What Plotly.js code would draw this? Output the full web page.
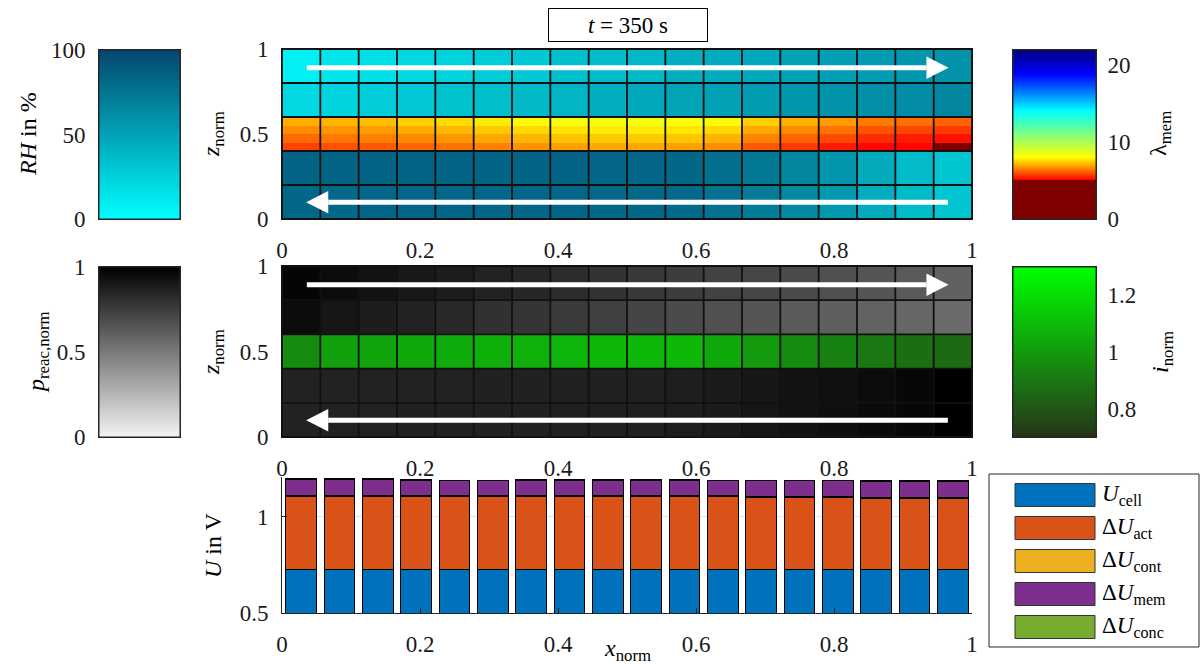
<!DOCTYPE html>
<html><head><meta charset="utf-8">
<script src="https://cdn.plot.ly/plotly-3.0.1.min.js"></script>
<style>html,body{margin:0;padding:0;background:#fff}#chart{width:1203px;height:664px}</style>
</head><body><div id="chart"></div>
<script>
// ---------- data ----------
const xNorm = [0.0278,0.0833,0.1389,0.1944,0.25,0.3056,0.3611,0.4167,0.4722,0.5278,0.5833,0.6389,0.6944,0.75,0.8056,0.8611,0.9167,0.9722];
const zEdgesAnode = [0, 0.2, 0.4];
const zEdgesMem = [0.4, 0.45, 0.5, 0.55, 0.6];
const zEdgesCathode = [0.6, 0.8, 1];
const xTickVals = [0, 0.2, 0.4, 0.6, 0.8, 1];

// relative humidity in % (top panel)
const rhAnodeLow  = [82,82,83,83,83,83,83,83,82,82,81,77,71,64,55,45,37,31];
const rhAnodeHigh = [84,84,84,84,84,84,84,84,83,83,82,78,73,65,56,46,37,31];
const rhCathLow   = [21,23,27,30,33,35,38,40,43,47,49,51,53,56,58,60,62,65];
const rhCathHigh  = [8,14,17,21,24,27,30,34,36,39,43,45,47,50,52,54,56,59];
// membrane water content, four levels through the membrane (bottom -> top)
const lambdaQ1 = [5.79,5.98,6.07,6.21,6.35,6.53,6.72,6.9,6.99,6.99,6.9,6.67,6.07,5.7,5.33,5.1,5.1,4.8];
const lambdaQ2 = [6.25,6.39,6.49,6.62,6.76,6.95,7.13,7.27,7.36,7.36,7.31,7.09,6.53,6.16,5.89,5.51,5.37,5.24];
const lambdaQ3 = [6.67,6.76,6.86,7.04,7.18,7.36,7.55,7.69,7.78,7.78,7.73,7.55,6.99,6.62,6.35,5.98,5.84,5.7];
const lambdaQ4 = [7.04,7.13,7.22,7.41,7.6,7.78,7.96,8.13,8.2,8.18,8.05,7.96,7.45,7.09,6.81,6.44,6.3,6.16];

// normalised reactant pressure (middle panel)
const pAnodeLow  = [0.86,0.86,0.86,0.865,0.865,0.865,0.865,0.87,0.87,0.87,0.875,0.89,0.91,0.92,0.94,0.955,0.97,1.0];
const pAnodeHigh = [0.86,0.86,0.86,0.86,0.86,0.865,0.865,0.865,0.87,0.87,0.875,0.89,0.905,0.92,0.935,0.95,0.97,1.0];
const pCathLow   = [0.95,0.91,0.88,0.86,0.83,0.80,0.78,0.76,0.735,0.715,0.69,0.67,0.65,0.63,0.61,0.595,0.58,0.56];
const pCathHigh  = [0.98,0.95,0.925,0.90,0.88,0.86,0.84,0.82,0.79,0.77,0.75,0.73,0.71,0.69,0.67,0.65,0.63,0.60];
// normalised current density
const iNorm = [0.96,1.02,1.03,1.04,1.055,1.065,1.07,1.08,1.09,1.09,1.09,1.045,1.0,0.96,0.93,0.90,0.875,0.86];

// voltage breakdown in V (bottom panel)
const uCell  = [0.728,0.728,0.728,0.728,0.728,0.728,0.728,0.728,0.728,0.728,0.728,0.728,0.728,0.728,0.728,0.728,0.728,0.728];
const dUact  = [0.376,0.376,0.376,0.375,0.375,0.375,0.376,0.377,0.377,0.377,0.377,0.376,0.373,0.372,0.371,0.369,0.368,0.367];
const dUcont = [0.008,0.008,0.008,0.006,0.005,0.006,0.007,0.007,0.007,0.007,0.007,0.006,0.005,0.005,0.005,0.005,0.005,0.005];
const dUmem  = [0.082,0.082,0.082,0.081,0.080,0.079,0.078,0.077,0.077,0.077,0.077,0.078,0.080,0.081,0.082,0.083,0.084,0.085];
const dUconc = [0.002,0.002,0.002,0.002,0.002,0.002,0.002,0.002,0.002,0.002,0.002,0.002,0.002,0.002,0.002,0.002,0.002,0.002];
const seriesNames  = ['<i>U</i><sub>cell</sub>','Δ<i>U</i><sub>act</sub>','Δ<i>U</i><sub>cont</sub>','Δ<i>U</i><sub>mem</sub>','Δ<i>U</i><sub>conc</sub>'];
const seriesColors = ['#0072BD','#D95319','#EDB120','#7E2F8E','#77AC30'];
const seriesValues = [uCell, dUact, dUcont, dUmem, dUconc];

// ---------- helpers ----------
const W = 1203, H = 664;
const fx = p => p / W;
const fy = p => 1 - p / H;
const FONT = 'Liberation Serif, DejaVu Serif, serif';
const INK = '#262626';
const TS = 23;

const xEdges = [0].concat(xNorm.slice(1).map((v, i) => (v + xNorm[i]) / 2), [1]);

const lamMax = 21.95;
const lamStops = [[0,'#800000'],[5.0,'#800000'],[5.05,'#ff0000'],[6.5,'#ff8000'],[8,'#ffff00'],[11,'#80ff80'],[14,'#00ffff'],[18.8,'#0000ff'],[lamMax,'#000080']];
const lamScale = lamStops.map(s => [s[0] / lamMax, s[1]]);

function cb(x0, y0, w, h) {
  return {x: fx(x0), xanchor: 'left', xref: 'paper', xpad: 0, y: fy(y0), yanchor: 'top', yref: 'paper', ypad: 0,
    len: h, lenmode: 'pixels', thickness: w, thicknessmode: 'pixels',
    showticklabels: false, ticks: '', outlinewidth: 1, outlinecolor: INK, borderwidth: 0};
}

function hm(z, yEdges, xa, ya, ca) {
  return {type: 'heatmap', x: xNorm, y: yEdges, z: z, xaxis: xa, yaxis: ya, coloraxis: ca, hoverinfo: 'skip'};
}

const traces = [
  hm([rhAnodeLow, rhAnodeHigh], zEdgesAnode, 'x', 'y', 'coloraxis'),
  hm([rhCathLow, rhCathHigh], zEdgesCathode, 'x', 'y', 'coloraxis'),
  hm([lambdaQ1, lambdaQ2, lambdaQ3, lambdaQ4], zEdgesMem, 'x', 'y', 'coloraxis2'),
  hm([pAnodeLow, pAnodeHigh], zEdgesAnode, 'x2', 'y2', 'coloraxis3'),
  hm([pCathLow, pCathHigh], zEdgesCathode, 'x2', 'y2', 'coloraxis3'),
  hm([iNorm], [0.4, 0.6], 'x2', 'y2', 'coloraxis4'),
];
seriesValues.forEach((vals, k) => {
  traces.push({type: 'bar', x: xNorm, y: vals, name: seriesNames[k], xaxis: 'x3', yaxis: 'y3',
    marker: {color: seriesColors[k], line: {color: '#000', width: 1}}, showlegend: false, hoverinfo: 'skip'});
});
['4','5','6','7'].forEach(n => traces.push({type: 'scatter', x: [], y: [], xaxis: 'x' + n, yaxis: 'y' + n, showlegend: false, hoverinfo: 'skip'}));

// grid lines between cells
const shapes = [];
function grid(xr, yr) {
  const yEdgesAll = zEdgesAnode.concat(zEdgesCathode).filter((v, i, a) => a.indexOf(v) === i);
  xEdges.forEach(xe => shapes.push({type: 'line', xref: xr, yref: yr, x0: xe, x1: xe, y0: 0, y1: 1, line: {color: '#111', width: 1.8}}));
  yEdgesAll.forEach(ye => shapes.push({type: 'line', xref: xr, yref: yr, x0: 0, x1: 1, y0: ye, y1: ye, line: {color: '#111', width: 1.8}}));
}
grid('x', 'y');
grid('x2', 'y2');

// flow arrows (white, filled heads)
function arrow(xr, yr, xTail, xTip, y) {
  const hl = 0.032 * Math.sign(xTip - xTail), hw = 0.066;
  const xb = xTip - hl;
  shapes.push({type: 'line', xref: xr, yref: yr, x0: xTail, x1: xb, y0: y, y1: y, line: {color: '#fff', width: 5}});
  shapes.push({type: 'path', xref: xr, yref: yr, path: `M${xb},${y - hw} L${xTip},${y} L${xb},${y + hw} Z`, fillcolor: '#fff', line: {color: '#fff', width: 0}});
}
arrow('x', 'y', 0.036, 0.966, 0.89);
arrow('x', 'y', 0.965, 0.035, 0.098);
arrow('x2', 'y2', 0.036, 0.966, 0.89);
arrow('x2', 'y2', 0.965, 0.035, 0.098);

// custom legend
const legTop = 474, legRow = 33;
shapes.push({type: 'rect', xref: 'paper', yref: 'paper', x0: fx(989), x1: fx(1199), y0: fy(647), y1: fy(legTop), line: {color: INK, width: 1}, fillcolor: '#fff', layer: 'below'});
const annotations = [];
seriesNames.forEach((nm, k) => {
  const cy = legTop + 21 + k * legRow;
  shapes.push({type: 'rect', xref: 'paper', yref: 'paper', x0: fx(1015), x1: fx(1095), y0: fy(cy + 11.5), y1: fy(cy - 11.5), line: {color: '#333', width: 1}, fillcolor: seriesColors[k]});
  annotations.push({xref: 'paper', yref: 'paper', x: fx(1100), y: fy(cy), xanchor: 'left', yanchor: 'middle', text: nm, showarrow: false, font: {family: FONT, size: 23, color: '#000'}});
});

function lab(x, y, text, angle, size) {
  annotations.push({xref: 'paper', yref: 'paper', x: fx(x), y: fy(y), xanchor: 'center', yanchor: 'middle', text: text, textangle: angle || 0, showarrow: false, font: {family: FONT, size: size || 24, color: '#000'}});
}
annotations.push({xref: 'paper', yref: 'paper', x: fx(628), y: fy(25), xanchor: 'center', yanchor: 'middle', text: '<i>t</i> = 350 s', showarrow: false, bordercolor: '#000', borderwidth: 1, bgcolor: '#fff', width: 156, height: 30, font: {family: FONT, size: 23, color: '#000'}});
lab(28, 134, '<i>RH</i> in %', -90);
lab(38, 352, '<i>p</i><sub>reac,norm</sub>', -90);
lab(213, 134, '<i>z</i><sub>norm</sub>', -90);
lab(213, 352, '<i>z</i><sub>norm</sub>', -90);
lab(213, 545, '<i>U</i> in V', -90);
lab(627, 650, '<i>x</i><sub>norm</sub>', 0);
lab(1160, 134, 'λ<sub>mem</sub>', -90);
lab(1162, 352, '<i>i</i><sub>norm</sub>', -90);

const tickFont = {family: FONT, size: TS, color: '#1a1a1a'};
function mainX(y0, y1, anchor, extra) {
  return Object.assign({domain: [fx(282), fx(972)], range: [0, 1], anchor: anchor, tickvals: xTickVals, ticks: '', showgrid: false, zeroline: false,
    showline: true, linecolor: '#111', linewidth: 1, mirror: true, tickfont: tickFont, ticklabelstandoff: 10, fixedrange: true}, extra || {});
}
function mainY(y0, y1, anchor, range, tv, extra) {
  return Object.assign({domain: [fy(y1), fy(y0)], range: range, anchor: anchor, tickvals: tv, ticks: '', showgrid: false, zeroline: false,
    showline: true, linecolor: '#111', linewidth: 1, mirror: true, tickfont: tickFont, ticklabelstandoff: 8, fixedrange: true}, extra || {});
}
function cbX(x0, x1, anchor) {
  return {domain: [fx(x0), fx(x1)], range: [0, 1], anchor: anchor, showticklabels: false, ticks: '', showgrid: false, zeroline: false, showline: true, linecolor: INK, mirror: true, fixedrange: true};
}
function cbY(y0, y1, anchor, range, tv, side) {
  return {domain: [fy(y1), fy(y0)], range: range, anchor: anchor, side: side, tickvals: tv, ticks: 'inside', ticklen: 4, tickcolor: INK,
    showgrid: false, zeroline: false, showline: true, linecolor: INK, mirror: true, tickfont: tickFont, ticklabelstandoff: side === 'right' ? 6 : 8, fixedrange: true};
}

const layout = {
  width: W, height: H,
  margin: {l: 0, r: 0, t: 0, b: 0, autoexpand: false},
  paper_bgcolor: '#fff', plot_bgcolor: '#fff',
  font: {family: FONT, color: '#000'},
  showlegend: false,
  barmode: 'stack', bargap: 0.2,
  xaxis: mainX(49, 219, 'y'),
  yaxis: mainY(49, 219, 'x', [0, 1], [0, 0.5, 1]),
  xaxis2: mainX(266, 437, 'y2'),
  yaxis2: mainY(266, 437, 'x2', [0, 1], [0, 0.5, 1]),
  xaxis3: mainX(477, 613, 'y3', {mirror: false, showgrid: true, gridcolor: '#e3e3e3', ticks: 'inside', ticklen: 5, tickcolor: INK, linecolor: INK}),
  yaxis3: mainY(477, 613, 'x3', [0.5, 1.206], [0.5, 1], {mirror: false, showgrid: true, gridcolor: '#e3e3e3', ticks: 'inside', ticklen: 5, tickcolor: INK, linecolor: INK}),
  xaxis4: cbX(99, 180, 'y4'),
  yaxis4: cbY(50, 219, 'x4', [0, 100], [0, 50, 100], 'left'),
  xaxis5: cbX(99, 180, 'y5'),
  yaxis5: cbY(267, 437, 'x5', [0, 1], [0, 0.5, 1], 'left'),
  xaxis6: cbX(1013, 1096, 'y6'),
  yaxis6: cbY(50, 219, 'x6', [0, lamMax], [0, 10, 20], 'right'),
  xaxis7: cbX(1013, 1096, 'y7'),
  yaxis7: cbY(267, 437, 'x7', [0.7, 1.3], [0.8, 1, 1.2], 'right'),
  coloraxis:  {cmin: 0, cmax: 100, colorscale: [[0, 'rgb(0,255,255)'], [1, 'rgb(4,70,110)']], colorbar: cb(99, 50, 81, 169)},
  coloraxis2: {cmin: 0, cmax: lamMax, colorscale: lamScale, colorbar: cb(1013, 50, 83, 169)},
  coloraxis3: {cmin: 0, cmax: 1, colorscale: [[0, 'rgb(243,243,243)'], [1, 'rgb(0,0,0)']], colorbar: cb(99, 267, 81, 170)},
  coloraxis4: {cmin: 0.7, cmax: 1.3, colorscale: [[0, 'rgb(38,52,26)'], [1, 'rgb(0,255,0)']], colorbar: cb(1013, 267, 83, 170)},
  shapes: shapes,
  annotations: annotations
};

Plotly.newPlot('chart', traces, layout, {staticPlot: true, displayModeBar: false});
</script>
</body></html>
